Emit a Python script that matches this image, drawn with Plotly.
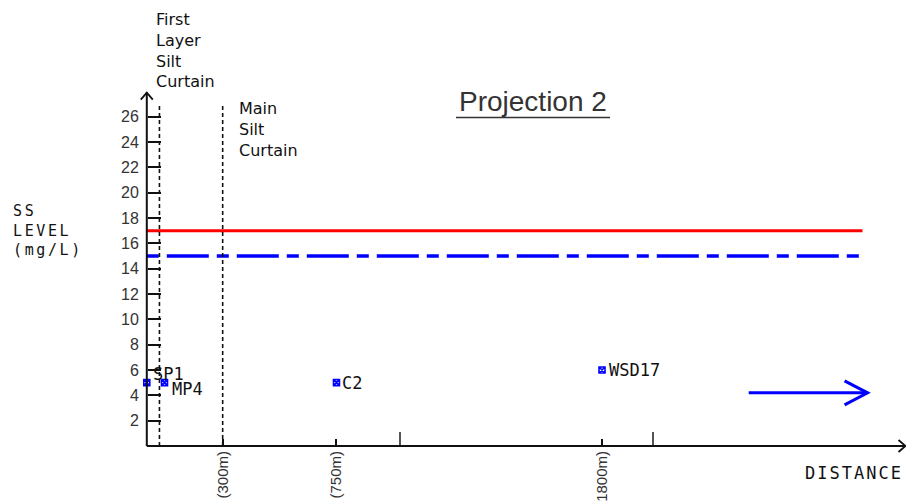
import plotly.graph_objects as go

# ---- data -------------------------------------------------------------
station_names = ["SP1", "MP4", "C2", "WSD17"]
station_distance_m = [0, 70, 750, 1800]
station_ss_mg_l = [5, 5, 5, 6]

limit_level = 17          # red solid line
action_level = 15         # blue dash-dot line
criteria_extent_m = [0, 2830]

curtain_distance_m = [50, 300]
curtain_top = 27

ss_tick_vals = [2, 4, 6, 8, 10, 12, 14, 16, 18, 20, 22, 24, 26]
ss_long_ticks = [10, 20]
dist_tick_m = [300, 750, 1800]
dist_tick_text = ["(300m)", "(750m)", "(1800m)"]
dist_minor_tick_m = [1000, 2000]

x_axis_end_m = 3000
y_axis_end = 27.9
flow_arrow_x = [2380, 2850]
flow_arrow_y = 4.2

# ---- page geometry (pixels) ------------------------------------------
W, H = 906, 501
PL, PR, PT, PB = 120, 906, 80, 461      # plot-area bounds
X0_PX, PX_PER_M = 146.8, 0.2529         # where distance 0 sits, scale
Y0_PX, PX_PER_UNIT = 446.0, 12.667      # where SS 0 sits, scale

x_range = [(PL - X0_PX) / PX_PER_M, (PR - X0_PX) / PX_PER_M]
y_range = [(Y0_PX - PB) / PX_PER_UNIT, (Y0_PX - PT) / PX_PER_UNIT]


def paper_x(px):
    return (px - PL) / (PR - PL)


def paper_y(py):
    return (PB - py) / (PB - PT)


BLUE = "#0000ff"
RED = "#ff0000"
INK = "#111111"
CAD_MONO = "DejaVu Sans Mono, Liberation Mono, monospace"
SANS = "Liberation Sans, Arial, sans-serif"
ROUND = "DejaVu Sans, Noto Sans, sans-serif"

fig = go.Figure()

# criteria lines
fig.add_trace(go.Scatter(
    x=criteria_extent_m, y=[limit_level, limit_level], mode="lines",
    line=dict(color=RED, width=3), hoverinfo="skip", showlegend=False))
fig.add_trace(go.Scatter(
    x=criteria_extent_m, y=[action_level, action_level], mode="lines",
    line=dict(color=BLUE, width=3.5, dash="12px,8px,42px,8px"),
    hoverinfo="skip", showlegend=False))

# monitoring stations
fig.add_trace(go.Scatter(
    x=station_distance_m, y=station_ss_mg_l, mode="markers",
    marker=dict(symbol="square-x-open", size=6, color=BLUE,
                line=dict(color=BLUE, width=1.6)),
    hoverinfo="skip", showlegend=False))

label_shift = [(4, 9), (5, -6), (4, 0), (5, 0)]
for name, xd, yd, (dx, dy) in zip(station_names, station_distance_m,
                                  station_ss_mg_l, label_shift):
    fig.add_annotation(x=xd, y=yd, text=name, showarrow=False,
                       xanchor="left", yanchor="middle",
                       xshift=dx, yshift=dy,
                       font=dict(family=CAD_MONO, size=17, color=INK))

shapes = []
# axis lines
shapes.append(dict(type="line", xref="x", yref="y", x0=0, x1=x_axis_end_m,
                   y0=0, y1=0, line=dict(color=INK, width=2)))
shapes.append(dict(type="line", xref="x", yref="y", x0=0, x1=0,
                   y0=0, y1=y_axis_end, line=dict(color=INK, width=2)))
# axis arrow heads
shapes.append(dict(type="path", xref="x", yref="y", xsizemode="pixel",
                   ysizemode="pixel", xanchor=x_axis_end_m, yanchor=0,
                   path="M-7,6 L0,0 L-7,-6", fillcolor="rgba(0,0,0,0)",
                   line=dict(color=INK, width=1.8)))
shapes.append(dict(type="path", xref="x", yref="y", xsizemode="pixel",
                   ysizemode="pixel", xanchor=0, yanchor=y_axis_end,
                   path="M-6,-7 L0,0 L6,-7", fillcolor="rgba(0,0,0,0)",
                   line=dict(color=INK, width=1.8)))
# silt curtains
for xd in curtain_distance_m:
    shapes.append(dict(type="line", xref="x", yref="y", x0=xd, x1=xd,
                       y0=0, y1=curtain_top,
                       line=dict(color=INK, width=1.6, dash="4px,3px")))
# flow direction arrow
shapes.append(dict(type="line", xref="x", yref="y", x0=flow_arrow_x[0],
                   x1=flow_arrow_x[1], y0=flow_arrow_y, y1=flow_arrow_y,
                   line=dict(color=BLUE, width=3)))
shapes.append(dict(type="path", xref="x", yref="y", xsizemode="pixel",
                   ysizemode="pixel", xanchor=flow_arrow_x[1],
                   yanchor=flow_arrow_y, path="M-23,12 L0,0 L-23,-12",
                   fillcolor="rgba(0,0,0,0)", line=dict(color=BLUE, width=3)))
# title underline
shapes.append(dict(type="line", xref="paper", yref="paper",
                   x0=paper_x(456), x1=paper_x(610),
                   y0=paper_y(117.5), y1=paper_y(117.5),
                   line=dict(color="#333333", width=1.6)))

# free text
fig.add_annotation(xref="paper", yref="paper", x=paper_x(533), y=paper_y(101),
                   text="Projection 2", showarrow=False, xanchor="center",
                   yanchor="middle",
                   font=dict(family=SANS, size=28, color="#333333"))
fig.add_annotation(xref="paper", yref="paper", x=paper_x(154), y=paper_y(8),
                   text="First<br>Layer<br>Silt<br>Curtain", showarrow=False,
                   xanchor="left", yanchor="top", align="left",
                   font=dict(family=ROUND, size=16, color=INK))
fig.add_annotation(xref="paper", yref="paper", x=paper_x(237), y=paper_y(97),
                   text="Main<br>Silt<br>Curtain", showarrow=False,
                   xanchor="left", yanchor="top", align="left",
                   font=dict(family=ROUND, size=16, color=INK))
fig.add_annotation(xref="paper", yref="paper", x=paper_x(11), y=paper_y(200),
                   text=('<span style="letter-spacing:2.6px">SS<br>LEVEL'
                         '<br>(mg/L)</span>'),
                   showarrow=False, xanchor="left", yanchor="top",
                   align="left",
                   font=dict(family=CAD_MONO, size=15, color=INK))
fig.add_annotation(xref="paper", yref="paper", x=paper_x(803), y=paper_y(473),
                   text='<span style="letter-spacing:2px">DISTANCE</span>',
                   showarrow=False, xanchor="left", yanchor="middle",
                   font=dict(family=CAD_MONO, size=17, color=INK))

x_pos = (0 - y_range[0]) / (y_range[1] - y_range[0])
y_pos = (0 - x_range[0]) / (x_range[1] - x_range[0])

fig.update_layout(
    width=W, height=H,
    margin=dict(l=PL, r=W - PR, t=PT, b=H - PB, pad=0, autoexpand=False),
    paper_bgcolor="white", plot_bgcolor="white",
    shapes=shapes,
    xaxis=dict(range=x_range, anchor="free", position=x_pos, automargin=False,
               showgrid=False, zeroline=False, showline=False,
               tickmode="array", tickvals=dist_tick_m, ticktext=dist_tick_text,
               ticks="inside", ticklen=7, tickwidth=1.6, tickcolor=INK,
               tickangle=-90, ticklabelstandoff=1,
               tickfont=dict(family=SANS, size=15, color="#333333"),
               minor=dict(tickmode="array", tickvals=dist_minor_tick_m,
                          ticks="inside", ticklen=14, tickwidth=1.6,
                          tickcolor="#555555", showgrid=False)),
    yaxis=dict(range=y_range, anchor="free", position=y_pos, automargin=False,
               showgrid=False, zeroline=False, showline=False,
               tickmode="array", tickvals=ss_tick_vals,
               ticks="inside", ticklen=13, tickwidth=1.6, tickcolor=INK,
               ticklabelstandoff=8,
               tickfont=dict(family=SANS, size=16, color="#333333")),
    yaxis2=dict(range=y_range, overlaying="y", anchor="free", position=y_pos,
                automargin=False,
                showgrid=False, zeroline=False, showline=False,
                tickmode="array", tickvals=ss_long_ticks,
                ticks="inside", ticklen=25, tickwidth=1.6, tickcolor=INK,
                showticklabels=False),
)

fig.write_html("out.html")
